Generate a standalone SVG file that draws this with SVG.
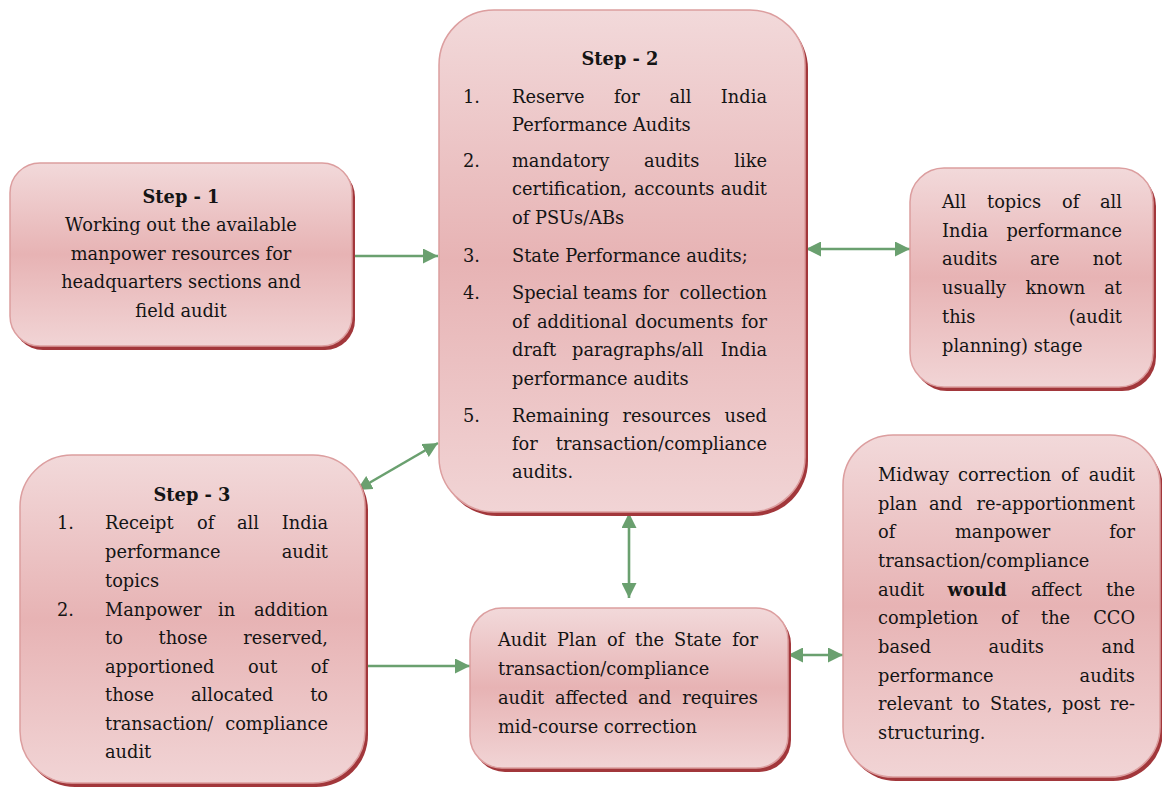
<svg xmlns="http://www.w3.org/2000/svg" width="1162" height="787" viewBox="0 0 1162 787">
<style>
.t{font-family:"DejaVu Serif","Liberation Serif",serif;font-size:17.8px;fill:#141414}
.b{font-weight:bold}
.m{text-anchor:middle}
.e{text-anchor:end}
.box{fill:url(#g);stroke:#dc9e9f;stroke-width:1.5}
.sh{fill:#a2373b}
.c{stroke:#6aa06f;stroke-width:2.6;fill:none}
</style>
<defs>
<linearGradient id="g" x1="0" y1="0" x2="0" y2="1">
<stop offset="0" stop-color="#f2d9da"/>
<stop offset="0.5" stop-color="#e7b3b4"/>
<stop offset="1" stop-color="#f1d4d5"/>
</linearGradient>
<marker id="a" markerUnits="userSpaceOnUse" markerWidth="16" markerHeight="15" refX="15" refY="7.5" orient="auto-start-reverse" viewBox="0 0 16 15">
<path d="M0,0 L15,7.5 L0,15 z" fill="#6aa06f"/>
</marker>
</defs>
<rect width="1162" height="787" fill="#fff"/>

<g id="connectors">
<path class="c" d="M352,256 L438,256" marker-end="url(#a)"/>
<path class="c" d="M806,249 L910,249" marker-start="url(#a)" marker-end="url(#a)"/>
<path class="c" d="M357,490 L438,443" marker-start="url(#a)" marker-end="url(#a)"/>
<path class="c" d="M364,666 L470,666" marker-end="url(#a)"/>
<path class="c" d="M629,513 L629,598" marker-start="url(#a)" marker-end="url(#a)"/>
<path class="c" d="M788,655 L843,655" marker-start="url(#a)" marker-end="url(#a)"/>
</g>

<g id="step1">
<rect class="sh" x="13" y="167" width="342" height="183" rx="30"/>
<rect class="box" x="10" y="163" width="342" height="183" rx="30"/>
<text class="t b m" x="181" y="203">Step - 1</text>
<text class="t m" x="181" y="231">Working out the available</text>
<text class="t m" x="181" y="260">manpower resources for</text>
<text class="t m" x="181" y="288">headquarters sections and</text>
<text class="t m" x="181" y="317">field audit</text>
</g>

<g id="step2">
<rect class="sh" x="442" y="14" width="366" height="502" rx="55"/>
<rect class="box" x="439" y="10" width="366" height="502" rx="55"/>
<text class="t b m" x="620" y="65">Step - 2</text>
<text class="t" x="463" y="103">1.</text>
<text class="t" y="103"><tspan x="512">Reserve</tspan><tspan x="614">for</tspan><tspan x="669.5">all</tspan><tspan x="767" class="e">India</tspan></text>
<text class="t" x="512" y="131">Performance Audits</text>
<text class="t" x="463" y="167">2.</text>
<text class="t" y="167"><tspan x="512">mandatory</tspan><tspan x="644">audits</tspan><tspan x="767" class="e">like</tspan></text>
<text class="t" y="195"><tspan x="512">certification,</tspan><tspan x="634">accounts</tspan><tspan x="767" class="e">audit</tspan></text>
<text class="t" x="512" y="224">of PSUs/ABs</text>
<text class="t" x="463" y="262">3.</text>
<text class="t" x="512" y="262">State Performance audits;</text>
<text class="t" x="463" y="299">4.</text>
<text class="t" y="299"><tspan x="512">Special</tspan><tspan x="583">teams</tspan><tspan x="643">for</tspan><tspan x="767" class="e">collection</tspan></text>
<text class="t" y="328"><tspan x="512">of</tspan><tspan x="537">additional</tspan><tspan x="635">documents</tspan><tspan x="767" class="e">for</tspan></text>
<text class="t" y="356"><tspan x="512">draft</tspan><tspan x="572">paragraphs/all</tspan><tspan x="767" class="e">India</tspan></text>
<text class="t" x="512" y="385">performance audits</text>
<text class="t" x="463" y="422">5.</text>
<text class="t" y="422"><tspan x="512">Remaining</tspan><tspan x="622.5">resources</tspan><tspan x="767" class="e">used</tspan></text>
<text class="t" y="450"><tspan x="512">for</tspan><tspan x="767" class="e">transaction/compliance</tspan></text>
<text class="t" x="512" y="478">audits.</text>
</g>

<g id="topics">
<rect class="sh" x="913" y="172" width="243" height="219" rx="34"/>
<rect class="box" x="910" y="168" width="243" height="219" rx="34"/>
<text class="t" y="208"><tspan x="942">All</tspan><tspan x="987">topics</tspan><tspan x="1062">of</tspan><tspan x="1122" class="e">all</tspan></text>
<text class="t" y="237"><tspan x="942">India</tspan><tspan x="1122" class="e">performance</tspan></text>
<text class="t" y="265"><tspan x="942">audits</tspan><tspan x="1030">are</tspan><tspan x="1122" class="e">not</tspan></text>
<text class="t" y="294"><tspan x="942">usually</tspan><tspan x="1025.5">known</tspan><tspan x="1122" class="e">at</tspan></text>
<text class="t" y="323"><tspan x="942">this</tspan><tspan x="1122" class="e">(audit</tspan></text>
<text class="t" x="942" y="352">planning) stage</text>
</g>

<g id="step3">
<rect class="sh" x="23" y="459" width="345" height="328" rx="52"/>
<rect class="box" x="20" y="455" width="345" height="328" rx="52"/>
<text class="t b m" x="192" y="501">Step - 3</text>
<text class="t" x="57" y="529">1.</text>
<text class="t" y="529"><tspan x="105">Receipt</tspan><tspan x="197">of</tspan><tspan x="237">all</tspan><tspan x="328" class="e">India</tspan></text>
<text class="t" y="558"><tspan x="105">performance</tspan><tspan x="328" class="e">audit</tspan></text>
<text class="t" x="105" y="587">topics</text>
<text class="t" x="57" y="616">2.</text>
<text class="t" y="616"><tspan x="105">Manpower</tspan><tspan x="218">in</tspan><tspan x="328" class="e">addition</tspan></text>
<text class="t" y="644"><tspan x="105">to</tspan><tspan x="158.5">those</tspan><tspan x="328" class="e">reserved,</tspan></text>
<text class="t" y="673"><tspan x="105">apportioned</tspan><tspan x="248">out</tspan><tspan x="328" class="e">of</tspan></text>
<text class="t" y="701"><tspan x="105">those</tspan><tspan x="191">allocated</tspan><tspan x="328" class="e">to</tspan></text>
<text class="t" y="730"><tspan x="105">transaction/</tspan><tspan x="328" class="e">compliance</tspan></text>
<text class="t" x="105" y="758">audit</text>
</g>

<g id="auditplan">
<rect class="sh" x="473" y="612" width="318" height="160" rx="32"/>
<rect class="box" x="470" y="608" width="318" height="160" rx="32"/>
<text class="t" y="646"><tspan x="498">Audit</tspan><tspan x="557">Plan</tspan><tspan x="607">of</tspan><tspan x="635">the</tspan><tspan x="674">State</tspan><tspan x="758" class="e">for</tspan></text>
<text class="t" x="498" y="675">transaction/compliance</text>
<text class="t" y="704"><tspan x="498">audit</tspan><tspan x="555">affected</tspan><tspan x="638">and</tspan><tspan x="758" class="e">requires</tspan></text>
<text class="t" x="498" y="733">mid-course correction</text>
</g>

<g id="midway">
<rect class="sh" x="846" y="439" width="317" height="342" rx="50"/>
<rect class="box" x="843" y="435" width="317" height="342" rx="50"/>
<text class="t" y="481"><tspan x="878">Midway</tspan><tspan x="958">correction</tspan><tspan x="1061">of</tspan><tspan x="1135" class="e">audit</tspan></text>
<text class="t" y="510"><tspan x="878">plan</tspan><tspan x="929">and</tspan><tspan x="1135" class="e">re-apportionment</tspan></text>
<text class="t" y="538"><tspan x="878">of</tspan><tspan x="955">manpower</tspan><tspan x="1135" class="e">for</tspan></text>
<text class="t" x="878" y="567">transaction/compliance</text>
<text class="t" y="596"><tspan x="878">audit</tspan><tspan x="947.5" class="b">would</tspan><tspan x="1031">affect</tspan><tspan x="1135" class="e">the</tspan></text>
<text class="t" y="624"><tspan x="878">completion</tspan><tspan x="1001">of</tspan><tspan x="1041">the</tspan><tspan x="1135" class="e">CCO</tspan></text>
<text class="t" y="653"><tspan x="878">based</tspan><tspan x="988.5">audits</tspan><tspan x="1135" class="e">and</tspan></text>
<text class="t" y="682"><tspan x="878">performance</tspan><tspan x="1135" class="e">audits</tspan></text>
<text class="t" y="710"><tspan x="878">relevant</tspan><tspan x="962">to</tspan><tspan x="990">States,</tspan><tspan x="1062">post</tspan><tspan x="1135" class="e">re-</tspan></text>
<text class="t" x="878" y="739">structuring.</text>
</g>
</svg>
